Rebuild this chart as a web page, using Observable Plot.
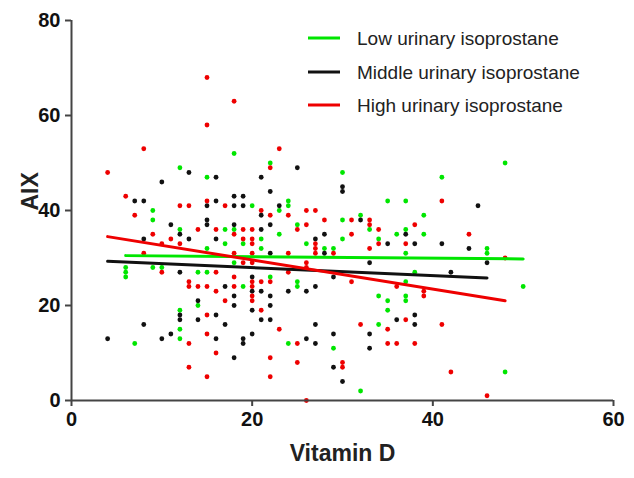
<!DOCTYPE html>
<html>
<head>
<meta charset="utf-8">
<script src="https://cdn.jsdelivr.net/npm/d3@7"></script>
<script src="https://cdn.jsdelivr.net/npm/@observablehq/plot@0.6"></script>
<style>
  html, body { margin: 0; padding: 0; background: #fff; }
  #chart { width: 634px; height: 478px; }
</style>
</head>
<body>
<div id="chart"></div>
<script>
// ---- data ----
const xTicks = [0, 20, 40, 60];
const yTicks = [0, 20, 40, 60, 80];
const xLabel = "Vitamin D";
const yLabel = "AIX";
const seriesNames = ["Low urinary isoprostane", "Middle urinary isoprostane", "High urinary isoprostane"];
const seriesColors = ["#00e600", "#111111", "#ee0000"];

const lowX = [18,12,15,9,9,12,17,18,17,15, 22,20,30,24,24,23,25,30,32,33,35,37,23,19,21,21,26,28,29,30,34,36,37,37, 48,41,39,39,46,46, 6,6,6,9,10,14,15,14,12,12,12,7, 18,22,19,25,25,37,34,35,35,37,37,34,24,29,32, 38,50,48];
const lowY = [52,49,47,40,38,36,36,36,33,32, 50,41,48,42,41,40,37,38,39,36,42,42,35,33,34,32,33,32,32,34,34,35,36,31, 50,47,39,35,32,31, 28,27,26,28,28,27,27,20,19,15,13,12, 29,26,24,25,24,25,22,21,19,22,21,16,12,11,2, 27,24,6];

const midX = [13,10,16,7,8,15,16,18,18,11,12,15,15,8,13,16, 25,21,22,19,19,30,30,23,21,32,18,21,22,22,27,28,28,35,37, 45,38,41,44, 12,17,14,18,18,12,12,14,16,8,17,11,4,10,16,18, 33,29,20,24,26,27,20,21,22,22,20,21,22,27,36,20,19,19,29,33,26,27,33,29,30, 46,42,38,38];
const midY = [48,46,47,42,42,41,42,43,41,37,35,38,37,34,34,34, 49,47,44,43,41,45,44,41,39,38,37,36,37,31,34,35,31,33,35, 41,33,33,32, 27,24,21,22,20,18,17,17,18,16,16,14,13,13,13,9, 29,26,26,23,23,24,23,23,22,20,19,17,17,16,17,14,13,12,14,14,13,12,11,7,4, 29,27,18,16];

const highX = [15,15,18,4,8,23, 6,7,12,13,15,17,14,16,18,9,11,10,12,8, 22,21,22,24,26,27,28,26,31,33,33,34,19,20,25,19,20,20,27,27,27,29,31,34,37,33,24,20, 41,38,44, 10,16,13,13,14,15,16,18,18,17,15,15,13,16,13,15, 18,19,20,26,26,24,20,21,22,20,31,36,20,20,21,23,32,35,25,35,36,22,25,30,30,22,26, 48,39,39,37,41,38,42,46];
const highY = [68,58,63,48,53,53, 43,39,41,41,42,41,36,36,35,35,34,33,33,31, 49,40,39,39,40,40,38,37,38,38,37,36,36,36,36,34,34,33,33,32,31,31,35,33,33,32,31,31, 42,37,35, 27,27,25,24,24,24,23,26,24,21,18,14,12,10,7,5, 31,29,29,29,28,27,25,25,25,24,25,24,22,21,19,15,16,15,12,12,12,9,8,8,7,5,0, 30,23,22,17,16,12,6,1];

// regression lines (end points)
const lineLowX = [6, 50],  lineLowY = [30.5, 29.8];
const lineMidX = [4, 46],  lineMidY = [29.3, 25.8];
const lineHighX = [4, 48], lineHighY = [34.5, 21.0];

// ---- build tables ----
const pts = (xs, ys) => xs.map((x, i) => ({x, y: ys[i]}));
const low = pts(lowX, lowY), mid = pts(midX, midY), high = pts(highX, highY);
const lLow = pts(lineLowX, lineLowY), lMid = pts(lineMidX, lineMidY), lHigh = pts(lineHighX, lineHighY);

const font = "'Liberation Sans', Arial, Helvetica, sans-serif";
const axisColor = "#444";

const chart = Plot.plot({
  width: 634,
  height: 478,
  marginLeft: 71,
  marginRight: 21,
  marginTop: 20,
  marginBottom: 78,
  style: {fontFamily: font, background: "#fff", overflow: "visible"},
  x: {domain: [0, 60]},
  y: {domain: [0, 80]},
  marks: [
    Plot.dot(low, {x: "x", y: "y", r: 2.4, fill: seriesColors[0], stroke: "none"}),
    Plot.dot(mid, {x: "x", y: "y", r: 2.4, fill: seriesColors[1], stroke: "none"}),
    Plot.dot(high, {x: "x", y: "y", r: 2.4, fill: seriesColors[2], stroke: "none"}),
    Plot.line(lLow, {x: "x", y: "y", stroke: seriesColors[0], strokeWidth: 3}),
    Plot.line(lMid, {x: "x", y: "y", stroke: seriesColors[1], strokeWidth: 3}),
    Plot.line(lHigh, {x: "x", y: "y", stroke: seriesColors[2], strokeWidth: 3}),
    Plot.ruleY([0], {stroke: axisColor, strokeWidth: 2}),
    Plot.ruleX([0], {stroke: axisColor, strokeWidth: 2}),
    Plot.axisX({ticks: xTicks, tickSize: 6, tickPadding: 5, strokeWidth: 2, stroke: axisColor, fill: "#111",
                fontSize: 20, fontWeight: "bold", label: null}),
    Plot.axisY({ticks: yTicks, tickSize: 6, tickPadding: 5, strokeWidth: 2, stroke: axisColor, fill: "#111",
                fontSize: 20, fontWeight: "bold", label: null}),
    Plot.text([xLabel], {frameAnchor: "bottom", dy: 60, fontSize: 23, fontWeight: "bold", fill: "#222"}),
    Plot.text([yLabel], {frameAnchor: "left", dx: -41, rotate: -90, fontSize: 23, fontWeight: "bold", fill: "#222"})
  ]
});

// legend inside the plot area (top right)
const svg = d3.select(chart);
const lg = svg.append("g").attr("font-family", font).attr("font-size", 19).attr("text-anchor", "start");
const rowY = [38, 72, 105];
seriesNames.forEach((name, i) => {
  lg.append("line").attr("x1", 308).attr("x2", 340).attr("y1", rowY[i]).attr("y2", rowY[i])
    .attr("stroke", seriesColors[i]).attr("stroke-width", 3);
  lg.append("text").attr("x", 357).attr("y", rowY[i]).attr("dy", "0.35em")
    .attr("text-anchor", "start").attr("fill", "#222").text(name);
});

document.getElementById("chart").appendChild(chart);
</script>
</body>
</html>
